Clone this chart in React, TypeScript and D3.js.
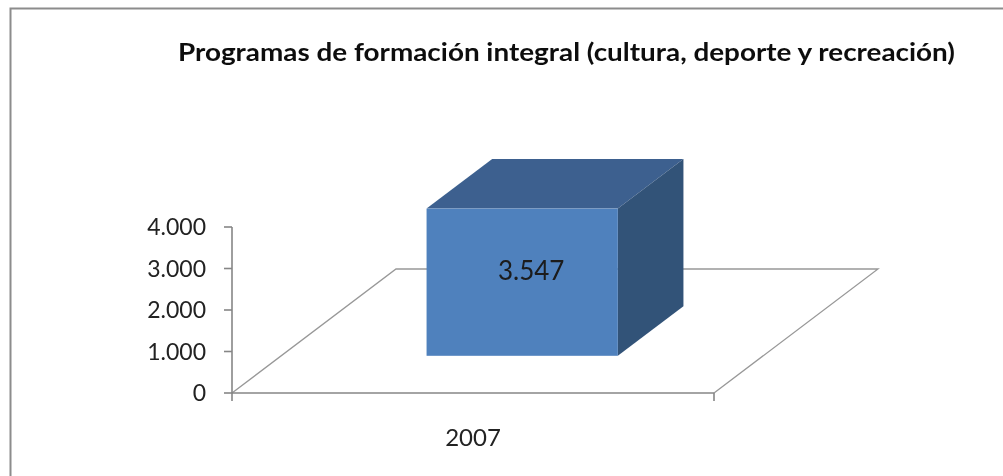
import React from "react";
import * as d3 from "d3";

const titleText = "Programas de formación integral (cultura, deporte y recreación)";
const categories = ["2007"];
const seriesValues = [3547];
const yTicks = [0, 1000, 2000, 3000, 4000];

const W = 1003, H = 476;
const FONT = "Lato,'Open Sans',sans-serif";
const fmt = (v: number) => d3.format(",")(v).replace(/,/g, ".");

export default function App() {
  const y = d3.scaleLinear().domain([0, 4000]).range([393, 227]);
  const x = d3.scaleBand<string>().domain(categories).range([232, 714]).paddingInner(0).paddingOuter(0.76);
  const depthX = d3.scaleLinear().domain([0, 1]).range([0, 164]);
  const depthY = d3.scaleLinear().domain([0, 1]).range([0, -124]);
  const pts = (a: [number, number][]) => a.map((p) => p.join(",")).join(" ");
  const floorY = y(0);
  const xl = x.range()[0], xr = x.range()[1];
  const backY = floorY + depthY(1);

  return (
    <svg width={W} height={H} viewBox={`0 0 ${W} ${H}`} style={{ position: "absolute", left: 0, top: 0, background: "#fff" }}>
      <defs>
        <filter id="soft" x="-5%" y="-5%" width="110%" height="110%">
          <feGaussianBlur stdDeviation="0.4" />
        </filter>
      </defs>
      <g filter="url(#soft)">
        <path d={`M10.5,${H} V8.5 H${W}`} fill="none" stroke="#8c8c8c" strokeWidth={2} />
        <polyline
          points={pts([[xl, floorY], [xl + depthX(1), backY], [xr + depthX(1), backY], [xr, floorY]])}
          fill="none" stroke="#989898" strokeWidth={1.3}
        />
        <line x1={xl} x2={xr} y1={floorY} y2={floorY} stroke="#868686" strokeWidth={1.6} />
        <line x1={xl} x2={xl} y1={y(4000)} y2={floorY + 8} stroke="#868686" strokeWidth={1.6} />
        <line x1={xr} x2={xr} y1={floorY} y2={floorY + 8} stroke="#868686" strokeWidth={1.6} />
        {yTicks.map((t) => (
          <g key={t}>
            <line x1={xl - 8} x2={xl} y1={y(t)} y2={y(t)} stroke="#868686" strokeWidth={1.6} />
            <text x={206} y={y(t)} dy="0.36em" textAnchor="end" fontFamily={FONT} fontSize={23} fill="#222">{fmt(t)}</text>
          </g>
        ))}
        {categories.map((c, i) => {
          const v = seriesValues[i];
          const x0 = (x(c) as number) + depthX(0.3);
          const x1 = x0 + x.bandwidth();
          const b = y(0) + depthY(0.3);
          const t = y(v) + depthY(0.3);
          const dx = depthX(0.7) - depthX(0.3);
          const dy = depthY(0.7) - depthY(0.3);
          return (
            <g key={c}>
              <polygon points={pts([[x0, t], [x0 + dx, t + dy], [x1 + dx, t + dy], [x1, t]])} fill="#3c618f" />
              <polygon points={pts([[x1, t], [x1 + dx, t + dy], [x1 + dx, b + dy], [x1, b]])} fill="#325278" />
              <rect x={x0} y={t} width={x1 - x0} height={b - t} fill="#4f81bd" />
              <text x={(x0 + x1) / 2 + 9} y={(t + b) / 2 - 12} dy="0.36em" textAnchor="middle" fontFamily={FONT} fontSize={26} fill="#1a1a1a">{fmt(v)}</text>
              <text x={(x(c) as number) + x.bandwidth() / 2} y={437} dy="0.36em" textAnchor="middle" fontFamily={FONT} fontSize={24} fill="#222">{c}</text>
            </g>
          );
        })}
        <text x={178} y={52} dy="0.36em" fontFamily={FONT} fontSize={25} fontWeight={700} fill="#111" textLength={777} lengthAdjust="spacingAndGlyphs">{titleText}</text>
      </g>
    </svg>
  );
}
